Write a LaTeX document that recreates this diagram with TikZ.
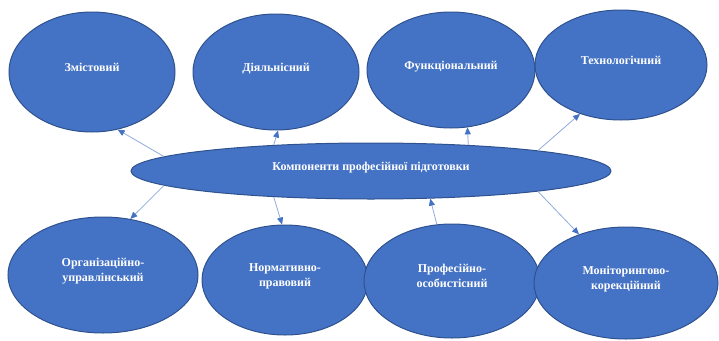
\documentclass[tikz,border=0pt]{standalone}
\usepackage{fontspec}
\newfontfamily\ovalfont{Liberation Serif}
\usepackage{tikz}
\usetikzlibrary{shapes.geometric, arrows.meta}
\definecolor{ovalblue}{HTML}{4472C4}
\definecolor{ovaledge}{HTML}{2F528F}
\definecolor{linkblue}{HTML}{8FAADC}

\begin{document}
\begin{tikzpicture}[x=1pt, y=-1pt, every node/.style={font=\ovalfont\bfseries\fontsize{12}{15}\selectfont}]
    % styles
    \tikzstyle{oval} = [ellipse, draw=ovaledge, line width=1pt, fill=ovalblue, text=white, align=center, inner sep=0pt, text depth=10pt]
    \tikzstyle{link} = [line width=0.8pt, draw=linkblue, -{Triangle[length=7pt, width=6pt, color=ovalblue]}]

    \useasboundingbox (0,0) rectangle (719,340);

    % centre
    \node (core) [oval, minimum width=480pt, minimum height=56pt] at (371,171) {Компоненти професійної підготовки};

    % upper row
    \node (zmist) [oval, minimum width=166pt, minimum height=120pt] at (92,72) {Змістовий};
    \node (diial) [oval, minimum width=166pt, minimum height=116pt] at (276,72) {Діяльнісний};
    \node (funk) [oval, minimum width=168pt, minimum height=116pt] at (451,70) {Функціональний};
    \node (tekh) [oval, minimum width=172pt, minimum height=110pt] at (621,65) {Технологічний};

    % lower row
    \node (orh) [oval, minimum width=190pt, minimum height=116pt] at (103,275) {Організаційно-\\управлінський};
    \node (norm) [oval, minimum width=166pt, minimum height=110pt] at (285,280) {Нормативно-\\правовий};
    \node (prof) [oval, minimum width=176pt, minimum height=114pt] at (452,281) {Професійно-\\особистісний};
    \node (monit) [oval, minimum width=184pt, minimum height=112pt] at (626,283) {Моніторингово-\\корекційний};

    % links
    \draw [link] (core.176) -- (zmist.-66);
    \draw [link] (core.165) -- (diial.-88);
    \draw [link] (core.15) -- (funk.-74);
    \draw [link] (core.7.5) -- (tekh.-130);
    \draw [link] (core.-176) -- (orh.64);
    \draw [link] (core.195) -- (norm.93);
    \draw [link] (prof.105) -- (core.-25);
    \draw [link] (core.-7) -- (monit.134);
\end{tikzpicture}
\end{document}
